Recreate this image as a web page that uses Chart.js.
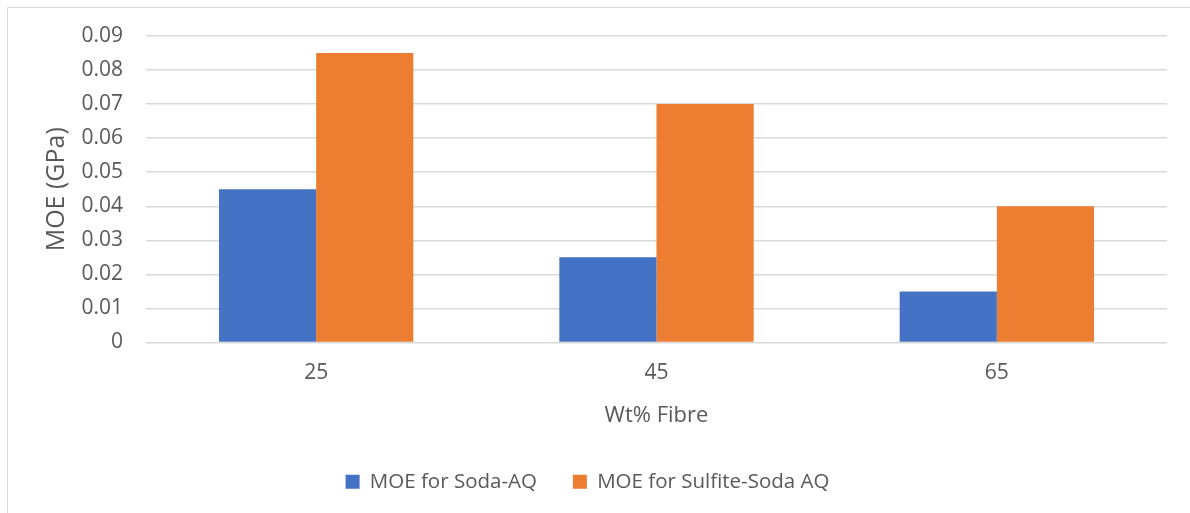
<!DOCTYPE html>
<html>
<head>
<meta charset="utf-8">
<script src="https://cdn.jsdelivr.net/npm/chart.js@4"></script>
<style>
  html, body { margin: 0; padding: 0; background: #ffffff; }
  #wrap { width: 1190px; height: 513px; position: relative; }
</style>
</head>
<body>
<div id="wrap"><canvas id="c" width="1190" height="513"></canvas></div>
<script>
// Fibre loading (wt%) on the x axis
const categories = ['25', '45', '65'];
// Modulus of elasticity, GPa
const sodaAQ = [0.045, 0.025, 0.015];
const sulfiteSodaAQ = [0.085, 0.07, 0.04];
const seriesNames = ['MOE for Soda-AQ', 'MOE for Sulfite-Soda AQ'];
const yTicks = [0, 0.01, 0.02, 0.03, 0.04, 0.05, 0.06, 0.07, 0.08, 0.09];

const FONT = "'Open Sans', 'Liberation Sans', sans-serif";
const TEXT = '#595959';
const GRID = '#d9d9d9';

// thin frame around the chart area (top and left edges visible)
const framePlugin = {
  id: 'frame',
  beforeDraw(chart) {
    const ctx = chart.ctx;
    ctx.save();
    ctx.strokeStyle = GRID;
    ctx.lineWidth = 1;
    ctx.beginPath();
    ctx.moveTo(7.5, chart.height + 2);
    ctx.lineTo(7.5, 7.5);
    ctx.lineTo(chart.width + 2, 7.5);
    ctx.stroke();
    ctx.restore();
  }
};

new Chart(document.getElementById('c'), {
  type: 'bar',
  data: {
    labels: categories,
    datasets: [
      { label: seriesNames[0], data: sodaAQ, backgroundColor: '#4472C4', borderWidth: 0 },
      { label: seriesNames[1], data: sulfiteSodaAQ, backgroundColor: '#ED7D31', borderWidth: 0 }
    ]
  },
  plugins: [framePlugin],
  options: {
    responsive: false,
    animation: false,
    devicePixelRatio: 1,
    layout: { padding: { left: 8, right: 23, top: 36, bottom: 11 } },
    datasets: { bar: { categoryPercentage: 0.571, barPercentage: 1.0 } },
    plugins: {
      legend: {
        position: 'bottom',
        labels: {
          font: { family: FONT, size: 20.5 },
          color: TEXT,
          boxWidth: 14,
          boxHeight: 14,
          padding: 36
        }
      },
      tooltip: { enabled: false }
    },
    scales: {
      x: {
        grid: { display: false, drawTicks: false },
        border: { display: false },
        ticks: { font: { family: FONT, size: 21 }, color: TEXT, padding: 18 },
        title: {
          display: true, text: 'Wt% Fibre',
          font: { family: FONT, size: 22 }, color: TEXT,
          padding: { top: 7, bottom: 7 }
        },
        afterFit(scale) { scale.height = 93; }
      },
      y: {
        min: 0, max: 0.09,
        afterBuildTicks(scale) { scale.ticks = yTicks.map(v => ({ value: v })); },
        grid: { color: GRID, lineWidth: 1.5, drawTicks: false },
        border: { display: false },
        ticks: {
          font: { family: FONT, size: 21 }, color: TEXT, padding: 23,
          callback: v => String(Math.round(v * 100) / 100)
        },
        title: {
          display: true, text: 'MOE (GPa)',
          font: { family: FONT, size: 25 }, color: TEXT,
          padding: { top: 34, bottom: 10 }
        },
        afterFit(scale) { scale.width = 138; }
      }
    }
  }
});
</script>
</body>
</html>
